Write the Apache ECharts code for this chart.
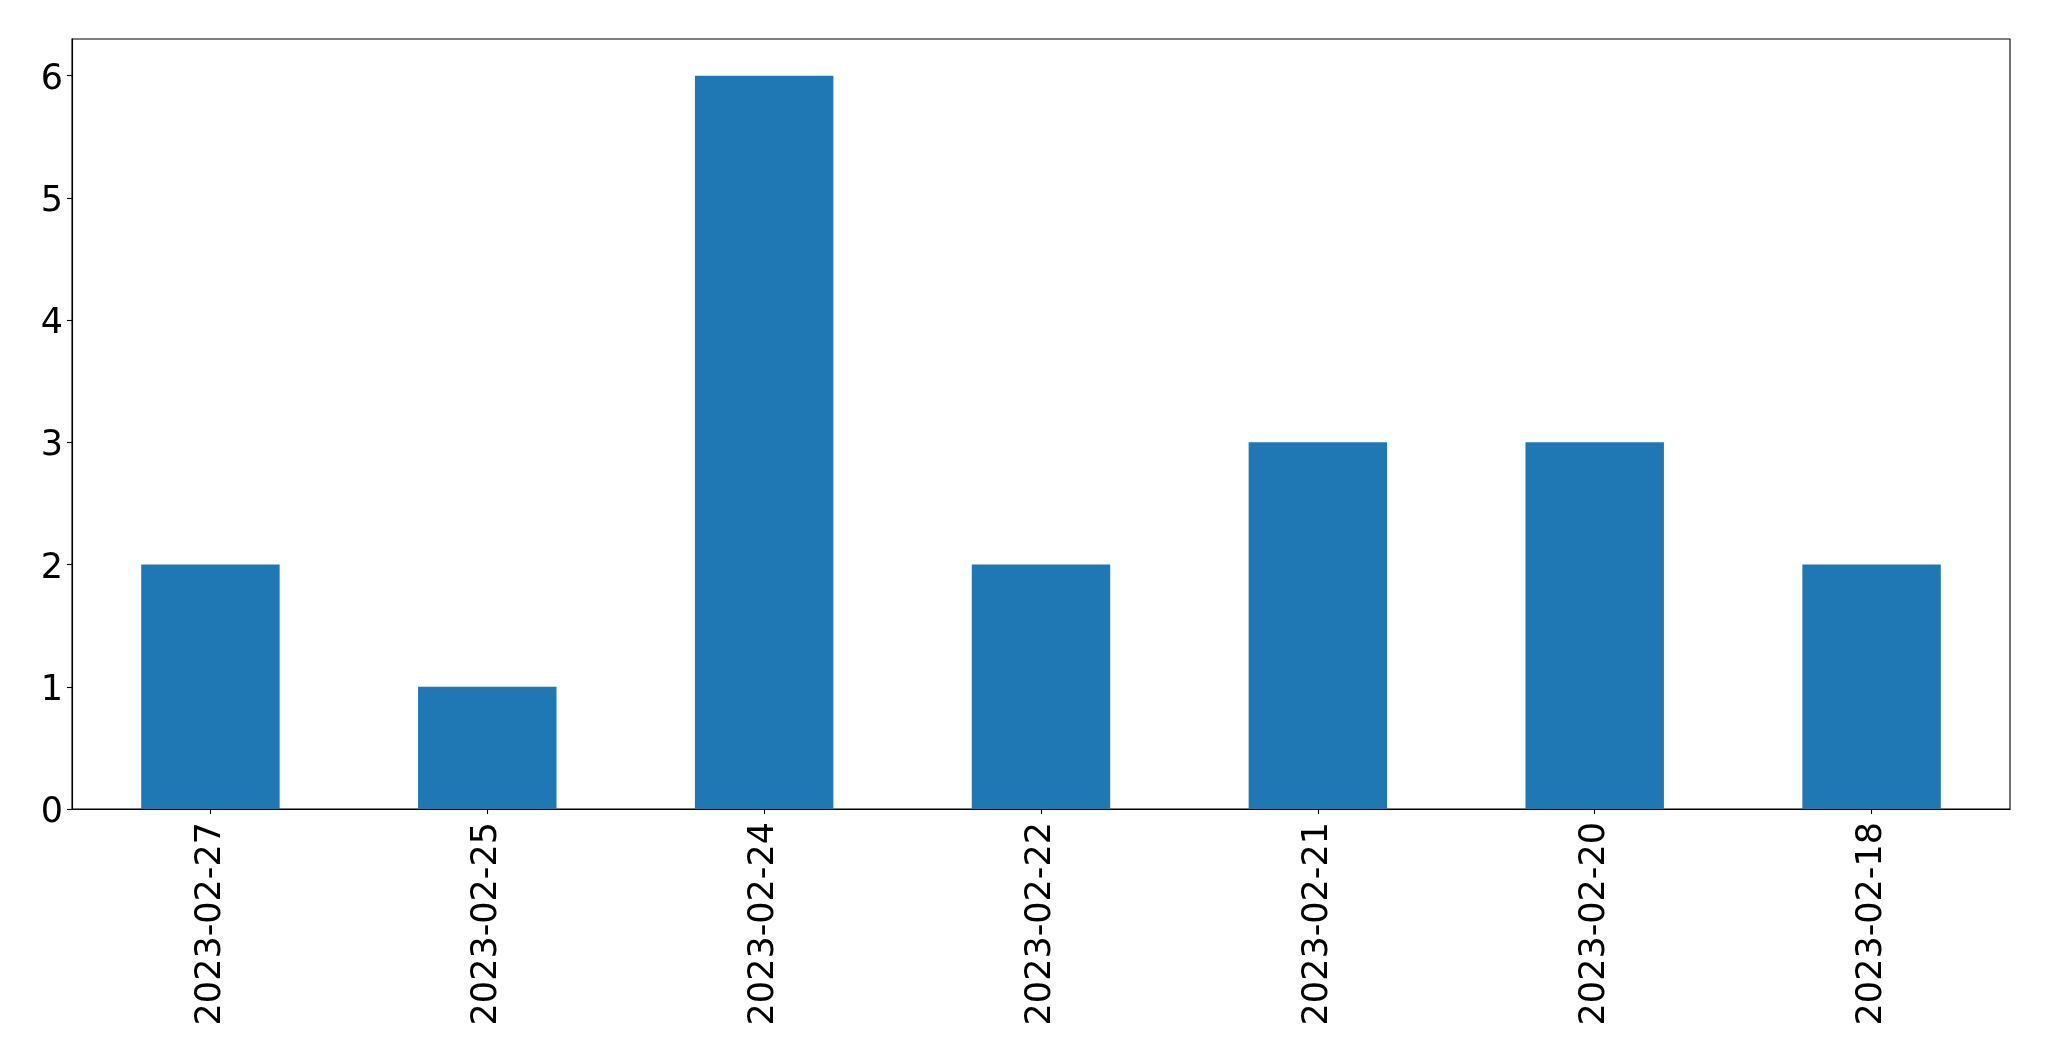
<!DOCTYPE html>
<html>
<head>
<meta charset="utf-8">
<script src="https://cdn.jsdelivr.net/npm/echarts@6/dist/echarts.min.js"></script>
<style>
html,body{margin:0;padding:0;background:#fff;}
#chart{width:2049px;height:1061px;}
</style>
</head>
<body>
<div id="chart"></div>
<script>
const categories = ['2023-02-27','2023-02-25','2023-02-24','2023-02-22','2023-02-21','2023-02-20','2023-02-18'];
const values = [2, 1, 6, 2, 3, 3, 2];
const yTicks = [0, 1, 2, 3, 4, 5, 6];

const chart = echarts.init(document.getElementById('chart'), null, {renderer: 'canvas'});
chart.setOption({
  animation: false,
  backgroundColor: '#ffffff',
  grid: {left: 72, top: 39, right: 39, bottom: 252, show: true, borderColor: '#000', borderWidth: 1.1, containLabel: false},
  xAxis: {
    type: 'category',
    data: categories,
    boundaryGap: true,
    axisLine: {show: true, lineStyle: {color: '#000', width: 1.1}},
    axisTick: {show: true, alignWithLabel: true, length: 5, lineStyle: {color: '#000', width: 1.1}},
    axisLabel: {rotate: 90, margin: 13, fontSize: 35, fontFamily: 'DejaVu Sans', color: '#000', interval: 0},
    splitLine: {show: false}
  },
  yAxis: {
    type: 'value',
    min: 0,
    max: 6.3,
    interval: 1,
    axisLine: {show: true, lineStyle: {color: '#000', width: 1.1}},
    axisTick: {show: true, length: 5, customValues: yTicks, lineStyle: {color: '#000', width: 1.1}},
    axisLabel: {
      margin: 9, fontSize: 35, fontFamily: 'DejaVu Sans', color: '#000', customValues: yTicks,
      formatter: function (v) { return '{a|' + v + '}'; },
      rich: {a: {fontSize: 35, fontFamily: 'DejaVu Sans', color: '#000', padding: [8, 0, 0, 0]}}
    },
    splitLine: {show: false}
  },
  series: [{
    type: 'bar',
    data: values,
    barWidth: '50%',
    itemStyle: {color: '#1f77b4'}
  }]
});
</script>
</body>
</html>
